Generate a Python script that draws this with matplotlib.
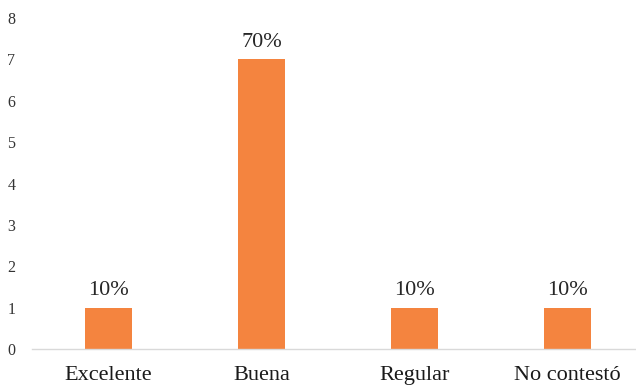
import matplotlib
matplotlib.use("Agg")
import matplotlib.pyplot as plt

categories = ["Excelente", "Buena", "Regular", "No contestó"]
values = [1, 7, 1, 1]
labels = ["10%", "70%", "10%", "10%"]
yticks = [0, 1, 2, 3, 4, 5, 6, 7, 8]

plt.rcParams['font.family'] = ['Liberation Serif', 'DejaVu Serif']

fig = plt.figure(figsize=(6.36, 3.85), dpi=100)
ax = fig.add_axes([32/636, 36/385, 604/636, 331/385])
x = list(range(len(categories)))
bars = ax.bar(x, values, width=0.31, color="#F4843F", zorder=2)
for xi, v, lab in zip(x, values, labels):
    ax.annotate(lab, (xi, v), xytext=(0, 5.5), textcoords="offset points",
                ha="center", va="bottom", fontsize=16, color="#262626")
ax.set_xlim(-0.5, (636 - 32) / 153 - 0.5)
ax.set_ylim(0, 8)
ax.set_yticks(yticks)
ax.set_xticks(x)
ax.set_xticklabels(categories, fontsize=16, color="#1a1a1a")
ax.tick_params(axis='y', length=0, pad=12, labelsize=11.5, labelcolor="#333333")
ax.tick_params(axis='x', length=0, pad=12.5)
for s in ["top", "right", "left"]:
    ax.spines[s].set_visible(False)
ax.spines["bottom"].set_color("#d9d9d9")
ax.spines["bottom"].set_linewidth(1)
fig.savefig("out.png", dpi=100)
